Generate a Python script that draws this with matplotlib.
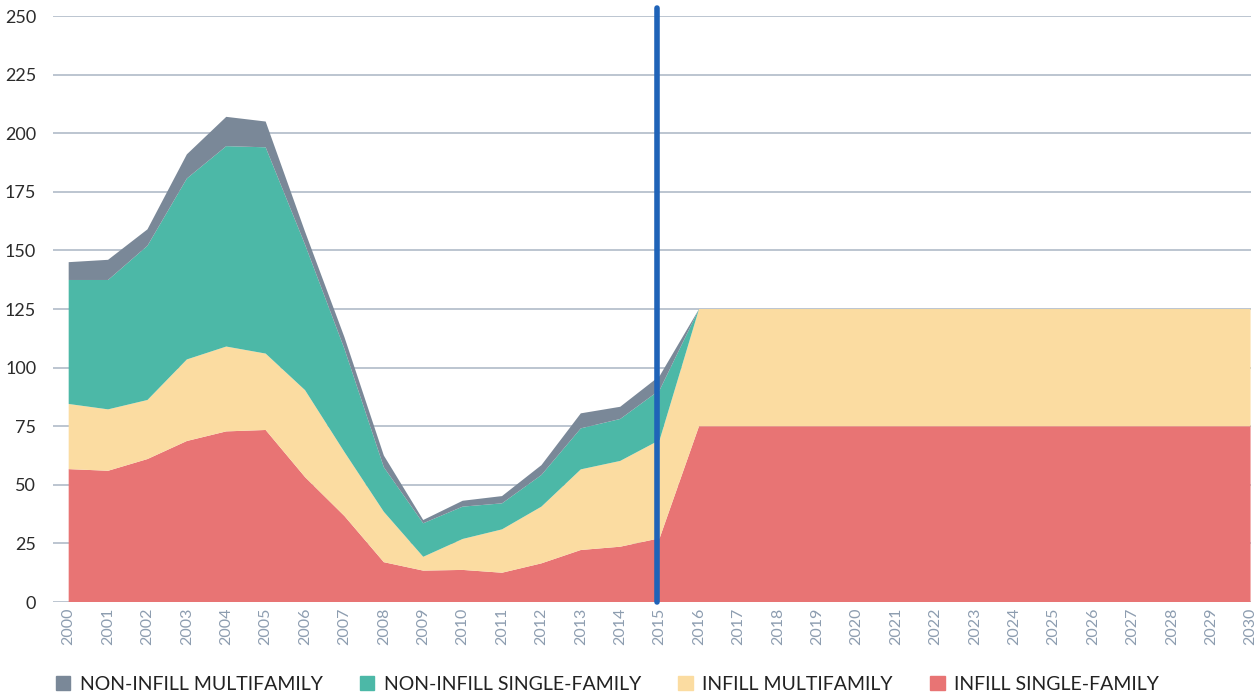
import matplotlib.pyplot as plt
from matplotlib.patches import Patch

# Data (thousands of units)
years = list(range(2000, 2031))
infill_single = [56.7, 56.0, 61.0, 68.7, 72.8, 73.4, 53.3, 36.7, 17.0, 13.4, 13.7,
                 12.5, 16.5, 22.2, 23.6, 27.2] + [75] * 15
infill_multi = [27.8, 26.2, 25.2, 34.8, 36.2, 32.6, 37.1, 27.3, 21.5, 5.9, 13.2,
                18.5, 24.2, 34.4, 36.6, 41.9] + [50] * 15
noninfill_single = [52.9, 55.2, 65.8, 77.2, 85.5, 88.0, 62.1, 44.0, 19.0, 14.3, 13.8,
                    11.1, 13.5, 17.5, 17.9, 21.3] + [0] * 15
noninfill_multi = [7.6, 8.6, 7.0, 10.3, 12.5, 11.0, 5.5, 5.0, 5.0, 1.4, 2.5,
                   3.1, 4.2, 6.4, 5.2, 6.0] + [0] * 15

labels = ['INFILL SINGLE-FAMILY', 'INFILL MULTIFAMILY',
          'NON-INFILL SINGLE-FAMILY', 'NON-INFILL MULTIFAMILY']
colors = ['#e87474', '#fbdca1', '#4cb8a7', '#7a8898']
cutoff_year = 2015

plt.rcParams['font.family'] = ['Lato', 'DejaVu Sans']

fig = plt.figure(figsize=(12.6, 6.98), dpi=100)
ax = fig.add_axes([0.042, 0.1375, 0.9505, 0.8395])

ax.stackplot(years, infill_single, infill_multi, noninfill_single, noninfill_multi,
             colors=colors, zorder=2)

# vertical marker for the last actual year
ax.plot([cutoff_year - 0.06, cutoff_year - 0.06], [0, 253.5], color='#1f63b8', linewidth=4,
        solid_capstyle='round', clip_on=False, zorder=5)

ax.set_xlim(1999.6, 2030)
ax.set_ylim(0, 250)
ax.set_yticks(range(0, 251, 25))
ax.set_xticks(years)
ax.set_xticklabels([str(y) for y in years], rotation=90, fontsize=11.5, color='#8d9db0')
ax.tick_params(axis='y', labelsize=13, labelcolor='#2b2b2b', length=0, pad=12)
ax.tick_params(axis='x', length=0, pad=4)
ax.grid(axis='y', color='#a9b5c3', linewidth=1.1, zorder=1)
ax.set_axisbelow(True)
for side in ['top', 'right', 'left', 'bottom']:
    ax.spines[side].set_visible(False)

handles = [Patch(color=colors[i], label=labels[i]) for i in [3, 2, 1, 0]]
fig.legend(handles=handles, loc='lower center', bbox_to_anchor=(0.482, -0.018), ncol=4,
           frameon=False, fontsize=14, handlelength=0.75, handleheight=0.75,
           handletextpad=0.5, columnspacing=1.9, labelcolor='#222222')

fig.savefig('out.png', dpi=100)
